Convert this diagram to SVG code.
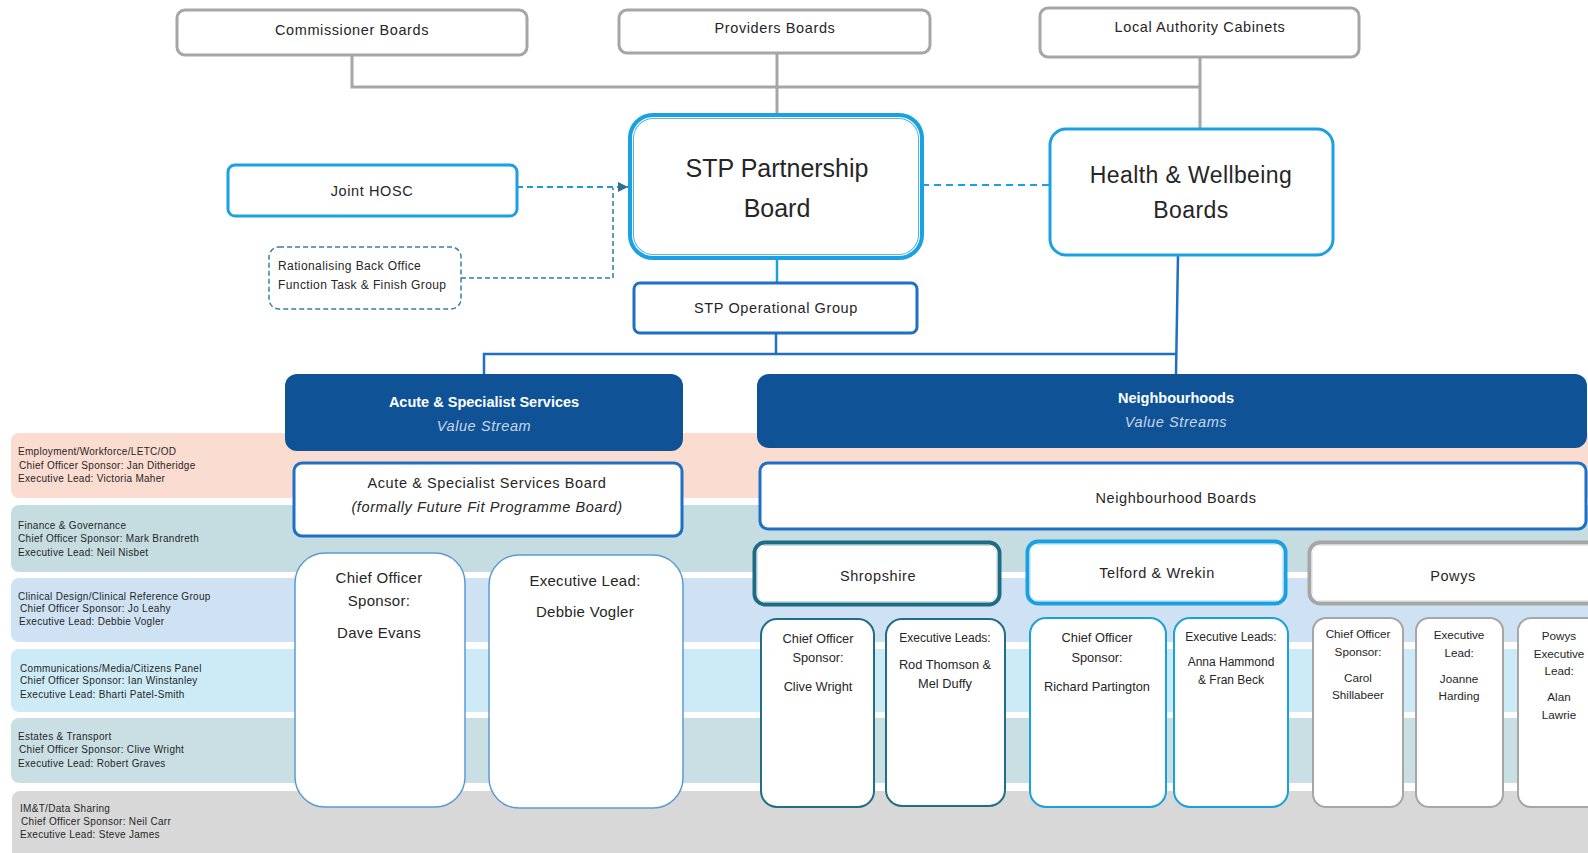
<svg xmlns="http://www.w3.org/2000/svg" width="1588" height="853" viewBox="0 0 1588 853">
<defs>
<style>
text{font-family:"Liberation Sans",Arial,sans-serif;fill:#262626}
.t{font-size:14.5px;letter-spacing:0.6px;text-anchor:middle}
.band-t{font-size:10px;letter-spacing:0.3px}
.grey{fill:#fff;stroke:#A6A6A6;stroke-width:3}
.lb{fill:#fff;stroke:#1BA1E2;stroke-width:3}
.db{fill:#fff;stroke:#1F6FC5;stroke-width:3}
.hdr{fill:#0F5396}
.hdr-t{font-size:14.5px;font-weight:bold;fill:#fff;text-anchor:middle}
.hdr-i{font-size:14.5px;font-style:italic;fill:#C9D6EA;letter-spacing:0.6px;text-anchor:middle}
.sub-a{fill:#fff;stroke:#5B9BD5;stroke-width:1.5}
.sub-s{fill:#fff;stroke:#236E87;stroke-width:2}
.sub-t{fill:#fff;stroke:#1AA0DC;stroke-width:2}
.sub-p{fill:#fff;stroke:#A6A6A6;stroke-width:2}
.s15{font-size:15px;letter-spacing:0.3px;text-anchor:middle}
.s13{font-size:12.8px;text-anchor:middle}
.s12{font-size:12px;text-anchor:middle}
.s117{font-size:11.7px;text-anchor:middle}
.inner{fill:none;stroke:#fff;stroke-width:1.2}
</style>
<marker id="arr" viewBox="0 0 6 6" refX="6" refY="3" markerWidth="5" markerHeight="5" orient="auto">
<path d="M0 0 L6 3 L0 6 z" fill="#2E6E8E"/>
</marker>
</defs>
<rect width="1588" height="853" fill="#fff"/>

<g id="bands">
<rect x="11" y="433" width="1600" height="65" rx="8" fill="#FBDCD0"/>
<rect x="11" y="505" width="1600" height="67" rx="8" fill="#C5DDE1"/>
<rect x="11" y="578" width="1600" height="64" rx="8" fill="#CFE2F3"/>
<rect x="11" y="649" width="1600" height="63" rx="8" fill="#CDEBF6"/>
<rect x="11" y="718" width="1600" height="65" rx="8" fill="#CADFE4"/>
<rect x="12" y="791" width="1600" height="80" rx="8" fill="#D8D8D8"/>
<text class="band-t" x="18" y="455">Employment/Workforce/LETC/OD</text>
<text class="band-t" x="19" y="469">Chief Officer Sponsor: Jan Ditheridge</text>
<text class="band-t" x="18" y="482">Executive Lead: Victoria Maher</text>
<text class="band-t" x="18" y="529">Finance &amp; Governance</text>
<text class="band-t" x="18" y="542">Chief Officer Sponsor: Mark Brandreth</text>
<text class="band-t" x="18" y="556">Executive Lead: Neil Nisbet</text>
<text class="band-t" x="18" y="600">Clinical Design/Clinical Reference Group</text>
<text class="band-t" x="20" y="612">Chief Officer Sponsor: Jo Leahy</text>
<text class="band-t" x="19" y="625">Executive Lead: Debbie Vogler</text>
<text class="band-t" x="20" y="672">Communications/Media/Citizens Panel</text>
<text class="band-t" x="20" y="684">Chief Officer Sponsor: Ian Winstanley</text>
<text class="band-t" x="20" y="698">Executive Lead: Bharti Patel-Smith</text>
<text class="band-t" x="18" y="740">Estates &amp; Transport</text>
<text class="band-t" x="19" y="753">Chief Officer Sponsor: Clive Wright</text>
<text class="band-t" x="18" y="767">Executive Lead: Robert Graves</text>
<text class="band-t" x="20" y="812">IM&amp;T/Data Sharing</text>
<text class="band-t" x="21" y="825">Chief Officer Sponsor: Neil Carr</text>
<text class="band-t" x="20" y="838">Executive Lead: Steve James</text>
</g>

<g id="connectors" fill="none">
<path d="M352 55 V87 H1200" stroke="#A6A6A6" stroke-width="3"/>
<path d="M777 53 V115" stroke="#A6A6A6" stroke-width="3"/>
<path d="M1200 57 V128" stroke="#A6A6A6" stroke-width="3"/>
<path d="M777 258 V283" stroke="#1BA1E2" stroke-width="2.5"/>
<path d="M776 333 V354" stroke="#1F6FC5" stroke-width="2.5"/>
<path d="M484 374 V354 H1177" stroke="#1F6FC5" stroke-width="2.5"/>
<path d="M1178 255 L1176 374" stroke="#1F6FC5" stroke-width="2.5"/>
<path d="M517 187 H628" stroke="#1E9AD6" stroke-width="2" stroke-dasharray="6 4" marker-end="url(#arr)"/>
<path d="M461 278 H613 V188" stroke="#2E7EA3" stroke-width="1.5" stroke-dasharray="5 3"/>
<path d="M922 185 H1050" stroke="#1BA1E2" stroke-width="2" stroke-dasharray="7 5"/>
</g>

<g id="commissioner-boards">
<rect class="grey" x="177" y="10" width="350" height="45" rx="8"/>
<text class="t" x="352" y="35">Commissioner Boards</text>
</g>
<g id="providers-boards">
<rect class="grey" x="619" y="10" width="311" height="43" rx="8"/>
<text class="t" x="775" y="33">Providers Boards</text>
</g>
<g id="local-authority-cabinets">
<rect class="grey" x="1040" y="8" width="319" height="49" rx="8"/>
<text class="t" x="1200" y="32">Local Authority Cabinets</text>
</g>

<g id="joint-hosc">
<rect class="lb" x="228" y="165" width="289" height="51" rx="7"/>
<text class="t" x="372" y="196">Joint HOSC</text>
</g>

<g id="rationalising">
<rect x="269" y="247" width="192" height="62" rx="10" fill="#fff" stroke="#3A7FA3" stroke-width="1.5" stroke-dasharray="5 3"/>
<text x="278" y="270" style="font-size:12px;letter-spacing:0.4px">Rationalising Back Office</text>
<text x="278" y="289" style="font-size:12px;letter-spacing:0.4px">Function Task &amp; Finish Group</text>
</g>

<g id="stp-partnership-board">
<rect x="631" y="116" width="290" height="141" rx="22" fill="#fff" stroke="#1BA1E2" stroke-width="6"/>
<rect class="inner" x="632.6" y="117.6" width="286.8" height="137.8" rx="20.5"/>
<text x="777" y="177" style="font-size:25px;text-anchor:middle">STP Partnership</text>
<text x="777" y="217" style="font-size:25px;text-anchor:middle">Board</text>
</g>

<g id="health-wellbeing-boards">
<rect class="lb" x="1050" y="129" width="283" height="126" rx="16"/>
<text x="1191" y="183" style="font-size:23px;text-anchor:middle;letter-spacing:0.4px">Health &amp; Wellbeing</text>
<text x="1191" y="218" style="font-size:23px;text-anchor:middle;letter-spacing:0.4px">Boards</text>
</g>

<g id="stp-operational-group">
<rect class="db" x="634" y="283" width="283" height="50" rx="6"/>
<text class="t" x="776" y="313">STP Operational Group</text>
</g>

<g id="acute-header">
<rect class="hdr" x="285" y="374" width="398" height="77" rx="12"/>
<text class="hdr-t" x="484" y="407">Acute &amp; Specialist Services</text>
<text class="hdr-i" x="484" y="431">Value Stream</text>
</g>

<g id="neighbourhoods-header">
<rect class="hdr" x="757" y="374" width="830" height="74" rx="12"/>
<text class="hdr-t" x="1176" y="403">Neighbourhoods</text>
<text class="hdr-i" x="1176" y="427">Value Streams</text>
</g>

<g id="acute-board">
<rect class="db" x="294" y="463" width="388" height="73" rx="8"/>
<text class="t" x="487" y="488">Acute &amp; Specialist Services Board</text>
<text class="t" x="487" y="512" style="font-style:italic">(formally Future Fit Programme Board)</text>
</g>

<g id="neighbourhood-boards">
<rect class="db" x="760" y="463" width="826" height="66" rx="8"/>
<text class="t" x="1176" y="503">Neighbourhood Boards</text>
</g>

<g id="acute-chief-officer">
<rect class="sub-a" x="295" y="553" width="170" height="254" rx="30"/>
<text class="s15" x="379" y="583">Chief Officer</text>
<text class="s15" x="379" y="606">Sponsor:</text>
<text class="s15" x="379" y="638">Dave Evans</text>
</g>
<g id="acute-executive-lead">
<rect class="sub-a" x="489" y="555" width="194" height="253" rx="30"/>
<text class="s15" x="585" y="586">Executive Lead:</text>
<text class="s15" x="585" y="617">Debbie Vogler</text>
</g>

<g id="shropshire">
<rect x="755" y="543" width="244" height="61" rx="10" fill="#fff" stroke="#1E6B85" stroke-width="5"/>
<rect class="inner" x="757" y="545" width="240" height="57" rx="8"/>
<text class="t" x="878" y="581">Shropshire</text>
</g>
<g id="telford-wrekin">
<rect x="1028" y="542" width="257" height="61" rx="10" fill="#fff" stroke="#1BA1E2" stroke-width="5"/>
<rect class="inner" x="1030" y="544" width="253" height="57" rx="8"/>
<text class="t" x="1157" y="578">Telford &amp; Wrekin</text>
</g>
<g id="powys">
<rect x="1310" y="543" width="300" height="60" rx="10" fill="#fff" stroke="#A6A6A6" stroke-width="5"/>
<rect class="inner" x="1312" y="545" width="296" height="56" rx="8"/>
<text class="t" x="1453" y="581">Powys</text>
</g>

<g id="shropshire-chief-officer">
<rect class="sub-s" x="761" y="619" width="113" height="188" rx="16"/>
<text class="s13" x="818" y="643">Chief Officer</text>
<text class="s13" x="818" y="662">Sponsor:</text>
<text class="s13" x="818" y="691">Clive Wright</text>
</g>
<g id="shropshire-executive-leads">
<rect class="sub-s" x="886" y="619" width="119" height="187" rx="16"/>
<text class="s12" x="945" y="642">Executive Leads:</text>
<text class="s13" x="945" y="669">Rod Thomson &amp;</text>
<text class="s13" x="945" y="688">Mel Duffy</text>
</g>

<g id="telford-chief-officer">
<rect class="sub-t" x="1030" y="618" width="136" height="189" rx="16"/>
<text class="s13" x="1097" y="642">Chief Officer</text>
<text class="s13" x="1097" y="662">Sponsor:</text>
<text class="s13" x="1097" y="691">Richard Partington</text>
</g>
<g id="telford-executive-leads">
<rect class="sub-t" x="1174" y="618" width="114" height="189" rx="16"/>
<text class="s12" x="1231" y="641">Executive Leads:</text>
<text class="s12" x="1231" y="666">Anna  Hammond</text>
<text class="s12" x="1231" y="684">&amp; Fran Beck</text>
</g>

<g id="powys-chief-officer">
<rect class="sub-p" x="1313" y="618" width="90" height="189" rx="13"/>
<text class="s117" x="1358" y="638">Chief Officer</text>
<text class="s117" x="1358" y="656">Sponsor:</text>
<text class="s117" x="1358" y="682">Carol</text>
<text class="s117" x="1358" y="699">Shillabeer</text>
</g>
<g id="powys-executive-lead">
<rect class="sub-p" x="1416" y="618" width="87" height="189" rx="13"/>
<text class="s117" x="1459" y="639">Executive</text>
<text class="s117" x="1459" y="657">Lead:</text>
<text class="s117" x="1459" y="683">Joanne</text>
<text class="s117" x="1459" y="700">Harding</text>
</g>
<g id="powys-executive-lead-2">
<rect class="sub-p" x="1518" y="618" width="95" height="189" rx="13"/>
<text class="s117" x="1559" y="640">Powys</text>
<text class="s117" x="1559" y="658">Executive</text>
<text class="s117" x="1559" y="675">Lead:</text>
<text class="s117" x="1559" y="701">Alan</text>
<text class="s117" x="1559" y="719">Lawrie</text>
</g>
</svg>
